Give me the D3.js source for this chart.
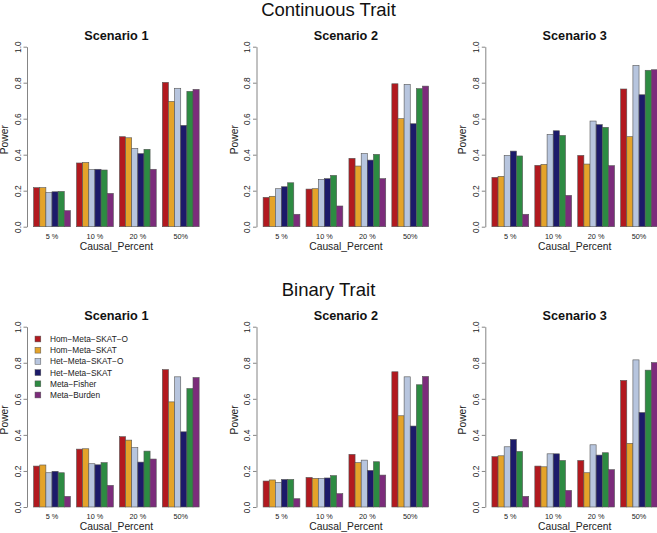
<!DOCTYPE html>
<html>
<head>
<meta charset="utf-8">
<script src="https://cdn.jsdelivr.net/npm/d3@7"></script>
<style>
  html, body { margin: 0; padding: 0; background: #fff; }
  svg { display: block; font-family: "Liberation Sans", Arial, Helvetica, sans-serif; }
</style>
</head>
<body>
<svg id="chart" width="657" height="533"></svg>
<script>
// ---------- data ----------
const categories = ["5 %", "10 %", "20 %", "50%"];
const methods = ["Hom\u2212Meta\u2212SKAT\u2212O", "Hom\u2212Meta\u2212SKAT", "Het\u2212Meta\u2212SKAT\u2212O",
                 "Het\u2212Meta\u2212SKAT", "Meta\u2212Fisher", "Meta\u2212Burden"];
const methodColors = ["#B2191F", "#E4A32A", "#B7C5DE", "#1C1A6A", "#2D8B42", "#7C2C7B"];
const traits = ["Continuous Trait", "Binary Trait"];
const scenarios = ["Scenario 1", "Scenario 2", "Scenario 3"];
const yTicks = [0, 0.2, 0.4, 0.6, 0.8, 1.0];

// values per category: [Hom-SKAT-O, Hom-SKAT, Het-SKAT-O, Het-SKAT, Fisher, Burden]
const contScenario1 = [
  [0.217, 0.217, 0.189, 0.194, 0.196, 0.089],
  [0.354, 0.357, 0.317, 0.319, 0.315, 0.185],
  [0.500, 0.494, 0.435, 0.406, 0.430, 0.319],
  [0.802, 0.696, 0.769, 0.563, 0.752, 0.763]
];
const contScenario2 = [
  [0.163, 0.169, 0.211, 0.222, 0.244, 0.069],
  [0.209, 0.211, 0.263, 0.267, 0.285, 0.115],
  [0.380, 0.337, 0.406, 0.370, 0.402, 0.267],
  [0.794, 0.600, 0.791, 0.572, 0.767, 0.781]
];
const contScenario3 = [
  [0.274, 0.280, 0.396, 0.420, 0.393, 0.069],
  [0.341, 0.346, 0.513, 0.533, 0.507, 0.174],
  [0.396, 0.348, 0.587, 0.567, 0.552, 0.339],
  [0.765, 0.500, 0.896, 0.733, 0.869, 0.872]
];
const binScenario1 = [
  [0.227, 0.233, 0.190, 0.198, 0.190, 0.059],
  [0.321, 0.323, 0.240, 0.234, 0.246, 0.120],
  [0.390, 0.371, 0.329, 0.249, 0.310, 0.266],
  [0.762, 0.583, 0.722, 0.417, 0.657, 0.718]
];
const binScenario2 = [
  [0.144, 0.150, 0.137, 0.153, 0.153, 0.046],
  [0.164, 0.159, 0.159, 0.161, 0.174, 0.074],
  [0.292, 0.246, 0.260, 0.203, 0.251, 0.177],
  [0.750, 0.506, 0.722, 0.449, 0.678, 0.724]
];
const binScenario3 = [
  [0.279, 0.284, 0.334, 0.375, 0.308, 0.059],
  [0.227, 0.223, 0.295, 0.295, 0.258, 0.092],
  [0.258, 0.190, 0.345, 0.288, 0.301, 0.207],
  [0.702, 0.353, 0.816, 0.524, 0.759, 0.801]
];
const panelData = [
  [contScenario1, contScenario2, contScenario3],
  [binScenario1, binScenario2, binScenario3]
];

// ---------- layout ----------
const svg = d3.select("#chart");
const W = 657;
const axisXs = [27, 256.5, 485.3];
const unit = 6.13;                  // px per bar unit
const regionW = 29.16 * unit;       // R plot region width
const rowTop = [46.7, 326.7];
const rowBottom = [226.7, 507];
const traitBaseline = [16, 296];
const FONT = "'Liberation Sans', Arial, Helvetica, sans-serif";

traits.forEach((trait, r) => {
  svg.append("text")
    .attr("x", W / 2).attr("y", traitBaseline[r])
    .attr("text-anchor", "middle")
    .attr("font-size", 18.5).attr("fill", "#111")
    .text(trait);

  scenarios.forEach((sc, c) => {
    const ax = axisXs[c];
    const g = svg.append("g");
    const y = d3.scaleLinear().domain([0, 1]).range([rowBottom[r], rowTop[r]]);
    const x0 = d3.scaleBand().domain(categories)
      .range([ax + 1.08 * unit, ax + 28.08 * unit])
      .paddingInner(1 / 7).paddingOuter(0);
    const x1 = d3.scaleBand().domain(d3.range(methods.length))
      .range([0, x0.bandwidth()]);

    // title
    g.append("text")
      .attr("x", ax + regionW / 2).attr("y", rowTop[r] - 6.7)
      .attr("text-anchor", "middle")
      .attr("font-size", 12.7).attr("font-weight", "bold").attr("fill", "#111")
      .text(sc);

    // bars
    const data = panelData[r][c];
    categories.forEach((cat, i) => {
      g.selectAll(null)
        .data(data[i])
        .enter().append("rect")
        .attr("x", (d, j) => x0(cat) + x1(j))
        .attr("width", x1.bandwidth())
        .attr("y", d => y(d))
        .attr("height", d => y(0) - y(d))
        .attr("fill", (d, j) => methodColors[j])
        .attr("stroke", "#555")
        .attr("stroke-width", 0.6);
    });

    // x category labels
    g.selectAll(null)
      .data(categories)
      .enter().append("text")
      .attr("x", d => x0(d) + x0.bandwidth() / 2)
      .attr("y", rowBottom[r] + 11.8)
      .attr("text-anchor", "middle")
      .attr("font-size", 7.3).attr("fill", "#222")
      .text(d => d);

    // x title
    g.append("text")
      .attr("x", ax + regionW / 2).attr("y", rowBottom[r] + 23.3)
      .attr("text-anchor", "middle")
      .attr("font-size", 10.3).attr("fill", "#222")
      .text("Causal_Percent");

    // y axis
    const yAxis = d3.axisLeft(y).tickValues(yTicks).tickFormat(d3.format(".1f"))
      .tickSize(3.5).tickSizeOuter(0);
    const ag = g.append("g").attr("transform", `translate(${ax},0)`).call(yAxis);
    ag.select(".domain").attr("stroke", "#666").attr("stroke-width", 0.8);
    ag.selectAll(".tick line").attr("stroke", "#666").attr("stroke-width", 0.8);
    ag.selectAll(".tick text")
      .attr("x", null).attr("dy", null)
      .attr("transform", "translate(-6.3,0) rotate(-90)")
      .attr("text-anchor", "middle")
      .attr("font-family", FONT)
      .attr("font-size", 8.4).attr("fill", "#222");

    // y title
    g.append("text")
      .attr("transform", `translate(${ax - 19},${(rowTop[r] + rowBottom[r]) / 2 + 3}) rotate(-90)`)
      .attr("text-anchor", "middle")
      .attr("font-size", 10.3).attr("fill", "#222")
      .text("Power");
  });
});

// legend (binary trait, scenario 1)
const legendG = svg.append("g");
const legY = d3.scalePoint().domain(methods).range([339, 395]);
methods.forEach((m, i) => {
  legendG.append("rect")
    .attr("x", 35).attr("y", legY(m) - 2.9)
    .attr("width", 5.8).attr("height", 5.8)
    .attr("fill", methodColors[i])
    .attr("stroke", "#555").attr("stroke-width", 0.5);
  legendG.append("text")
    .attr("x", 50).attr("y", legY(m) + 3)
    .attr("font-size", 8.3).attr("fill", "#222")
    .text(m);
});
</script>
</body>
</html>
